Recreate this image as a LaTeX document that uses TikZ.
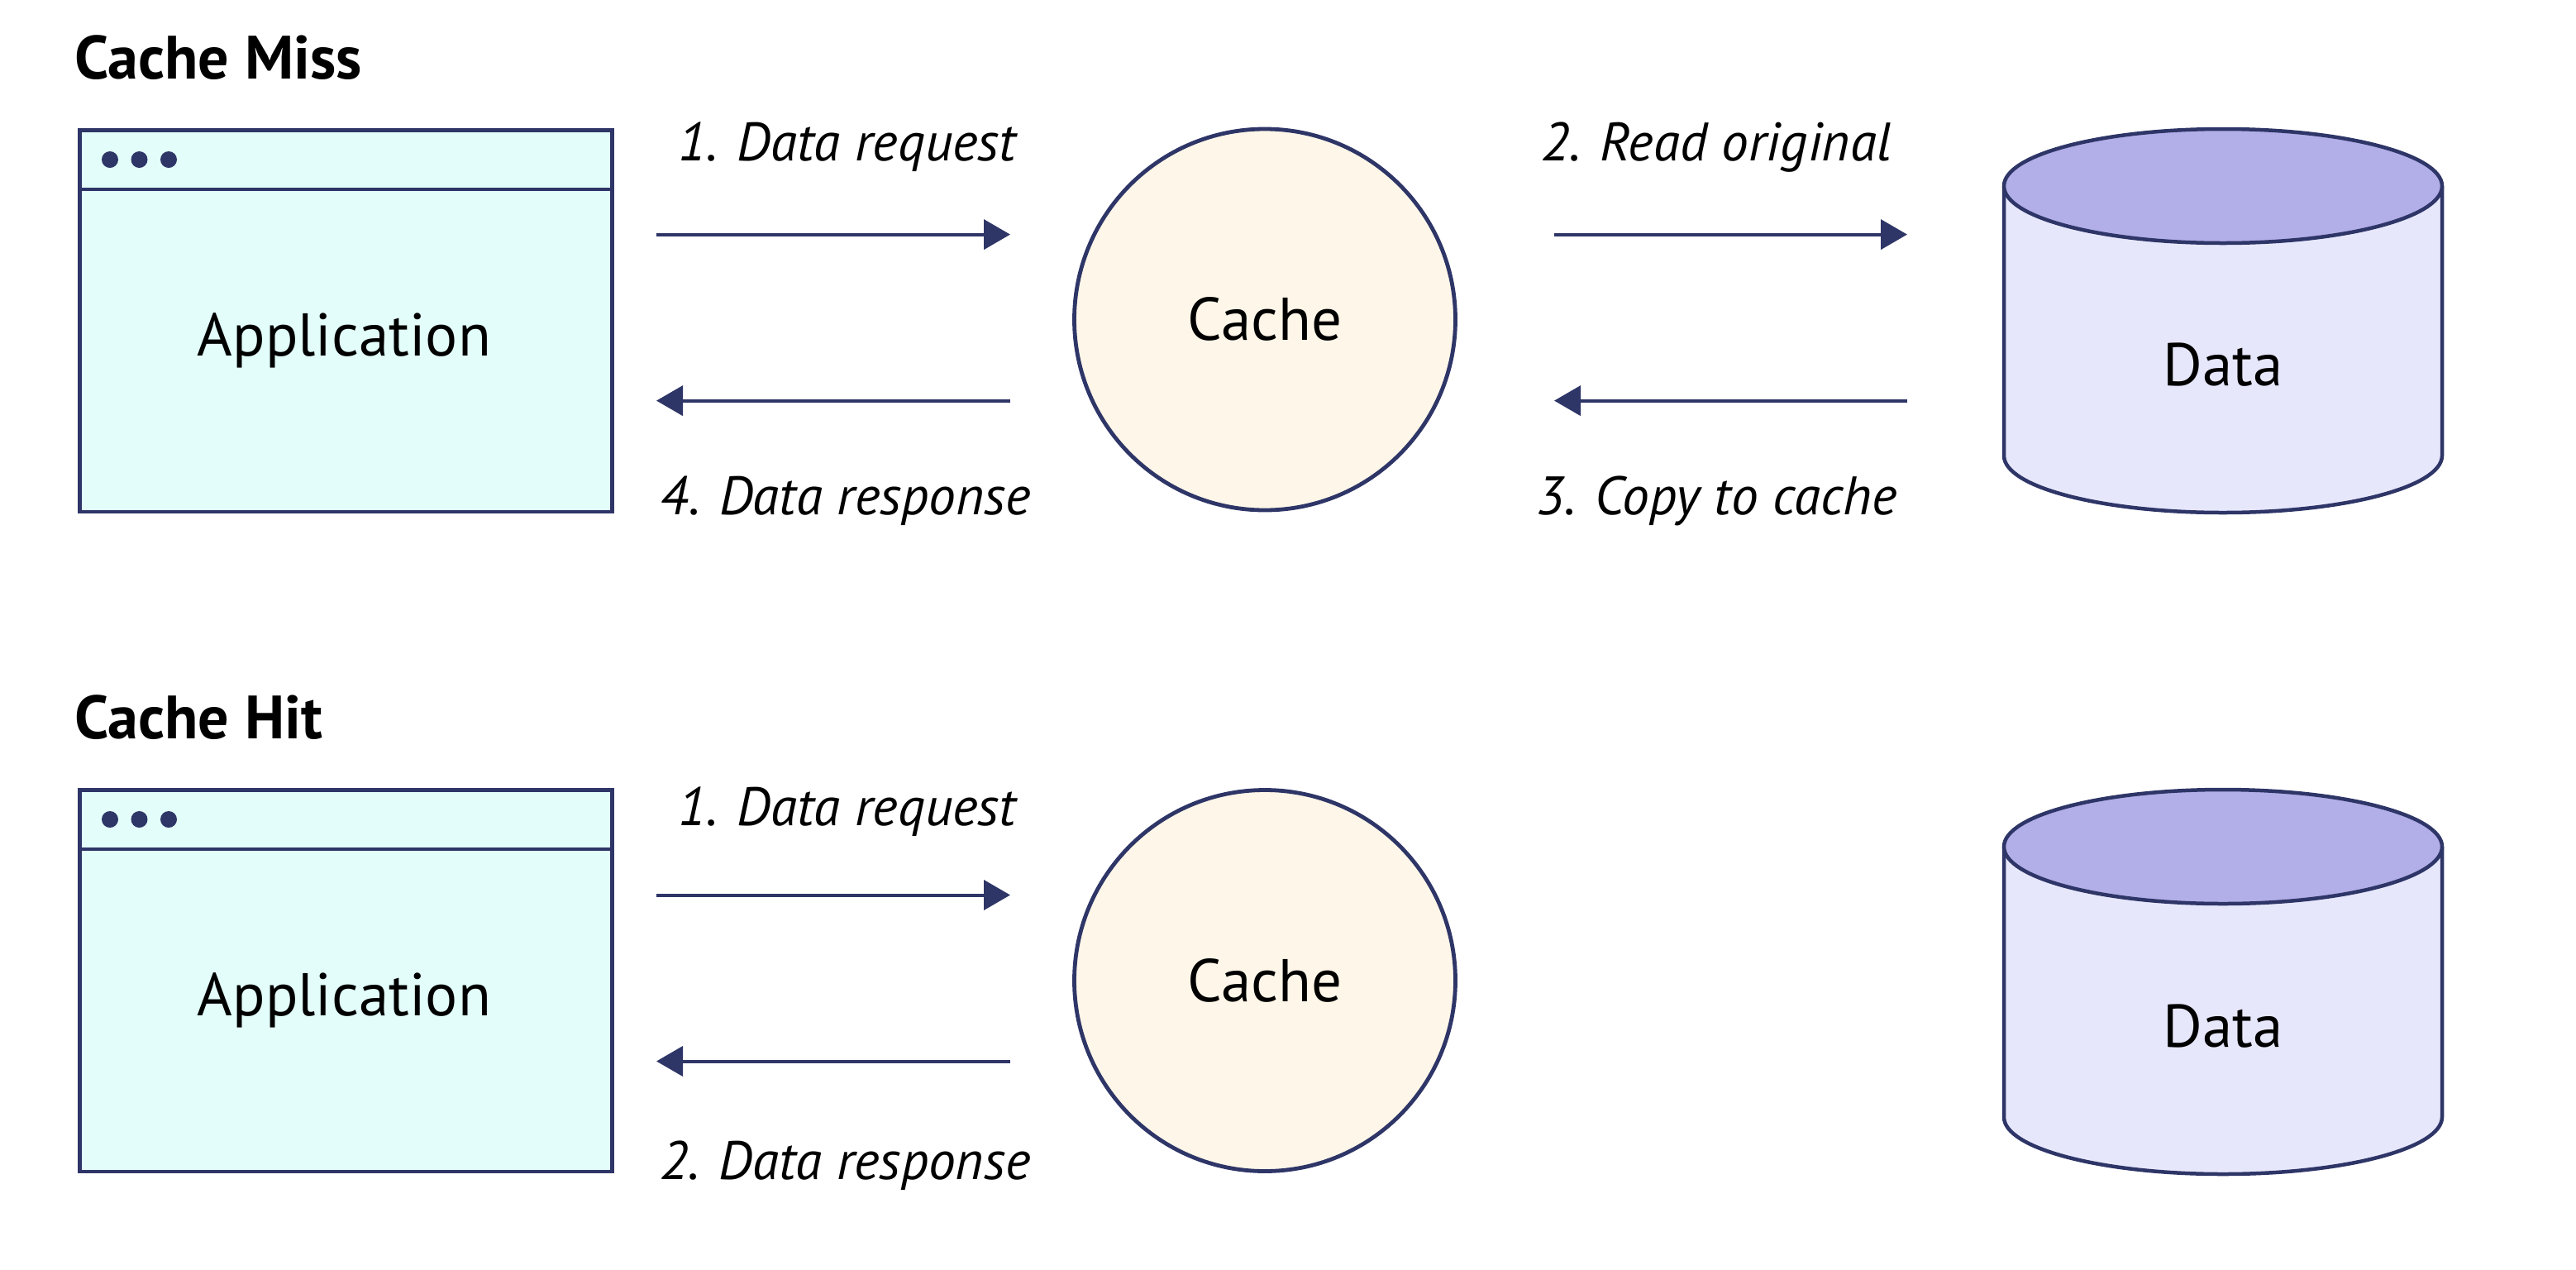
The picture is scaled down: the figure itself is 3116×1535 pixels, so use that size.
\documentclass[tikz,border=0pt]{standalone}
\usepackage{fontspec}
\setmainfont{PT Sans}
\usetikzlibrary{arrows.meta}
\definecolor{navy}{RGB}{46,53,103}
\definecolor{appfill}{RGB}{226,253,250}
\definecolor{cachefill}{RGB}{254,246,232}
\definecolor{cyltop}{RGB}{178,174,232}
\definecolor{cylbody}{RGB}{231,231,252}
\begin{document}
\begin{tikzpicture}[x=1pt,y=-1pt,
  appbox/.style={rectangle,draw=navy,fill=appfill,line width=4.5pt,minimum width=644pt,minimum height=461.5pt,inner sep=0pt},
  cachecirc/.style={circle,draw=navy,fill=cachefill,line width=4.8pt,minimum size=461pt,inner sep=0pt},
  bigtxt/.style={font=\fontsize{73}{80}\selectfont,anchor=base,inner sep=0pt},
  lbl/.style={font=\fontsize{65.5}{72}\selectfont\itshape,anchor=base,inner sep=0pt},
  ttl/.style={font=\fontsize{74}{80}\selectfont\bfseries,anchor=base west,inner sep=0pt},
  flow/.style={draw=navy,line width=4pt,-{Triangle[length=32pt,width=36pt]}},
  appdot/.style={circle,fill=navy,minimum size=20pt,inner sep=0pt},
  cylline/.style={draw=navy,line width=4.5pt}
]
\useasboundingbox (0,0) rectangle (3116,1535);

% ---------------- Cache Miss ----------------
\node[ttl] (t1) at (90,95.5) {Cache Miss};

\node[appbox] (app1) at (418.25,388) {};
\draw[navy,line width=4.5pt] (app1.west |- 0,229) -- (app1.east |- 0,229);
\node[appdot] (d11) at (133,193) {};
\node[appdot] (d12) at (168.5,193) {};
\node[appdot] (d13) at (204,193) {};
\node[bigtxt] (app1t) at (416.5,430) {Application};

\node[cachecirc] (cache1) at (1530,386.5) {};
\node[bigtxt] (cache1t) at (1530,411) {Cache};

\fill[cylbody] (2424,225) -- (2424,551) arc[start angle=180,end angle=360,x radius=265pt,y radius=69pt] -- (2954,225) -- cycle;
\draw[cylline] (2424,225) -- (2424,551) arc[start angle=180,end angle=360,x radius=265pt,y radius=69pt] -- (2954,225);
\draw[cylline,fill=cyltop] (2689,225) ellipse [x radius=265pt,y radius=69pt];
\node[bigtxt] (db1) at (2689,466) {Data};

\coordinate (a1s) at (794,283.6);  \coordinate (a1e) at (1222,283.6);
\coordinate (a4s) at (1222,484.6); \coordinate (a4e) at (794,484.6);
\coordinate (a2s) at (1880,283.6); \coordinate (a2e) at (2307,283.6);
\coordinate (a3s) at (2307,484.6); \coordinate (a3e) at (1880,484.6);
\draw[flow] (a1s) -- (a1e);
\draw[flow] (a4s) -- (a4e);
\draw[flow] (a2s) -- (a2e);
\draw[flow] (a3s) -- (a3e);

\node[lbl] (l1) at (1025,194) {1. Data request};
\node[lbl] (l4) at (1023,622) {4. Data response};
\node[lbl] (l2) at (2076,194) {2. Read original};
\node[lbl] (l3) at (2076.5,622) {3. Copy to cache};

% ---------------- Cache Hit ----------------
\node[ttl] (t2) at (90,893) {Cache Hit};

\node[appbox] (app2) at (418.25,1186) {};
\draw[navy,line width=4.5pt] (app2.west |- 0,1027) -- (app2.east |- 0,1027);
\node[appdot] (d21) at (133,991) {};
\node[appdot] (d22) at (168.5,991) {};
\node[appdot] (d23) at (204,991) {};
\node[bigtxt] (app2t) at (416.5,1228) {Application};

\node[cachecirc] (cache2) at (1530,1186) {};
\node[bigtxt] (cache2t) at (1530,1211) {Cache};

\fill[cylbody] (2424,1024) -- (2424,1351) arc[start angle=180,end angle=360,x radius=265pt,y radius=69pt] -- (2954,1024) -- cycle;
\draw[cylline] (2424,1024) -- (2424,1351) arc[start angle=180,end angle=360,x radius=265pt,y radius=69pt] -- (2954,1024);
\draw[cylline,fill=cyltop] (2689,1024) ellipse [x radius=265pt,y radius=69pt];
\node[bigtxt] (db2) at (2689,1266) {Data};

\coordinate (b1s) at (794,1082.5);  \coordinate (b1e) at (1222,1082.5);
\coordinate (b2s) at (1222,1283.5); \coordinate (b2e) at (794,1283.5);
\draw[flow] (b1s) -- (b1e);
\draw[flow] (b2s) -- (b2e);

\node[lbl] (m1) at (1025,998) {1. Data request};
\node[lbl] (m2) at (1022.5,1426) {2. Data response};
\end{tikzpicture}
\end{document}
